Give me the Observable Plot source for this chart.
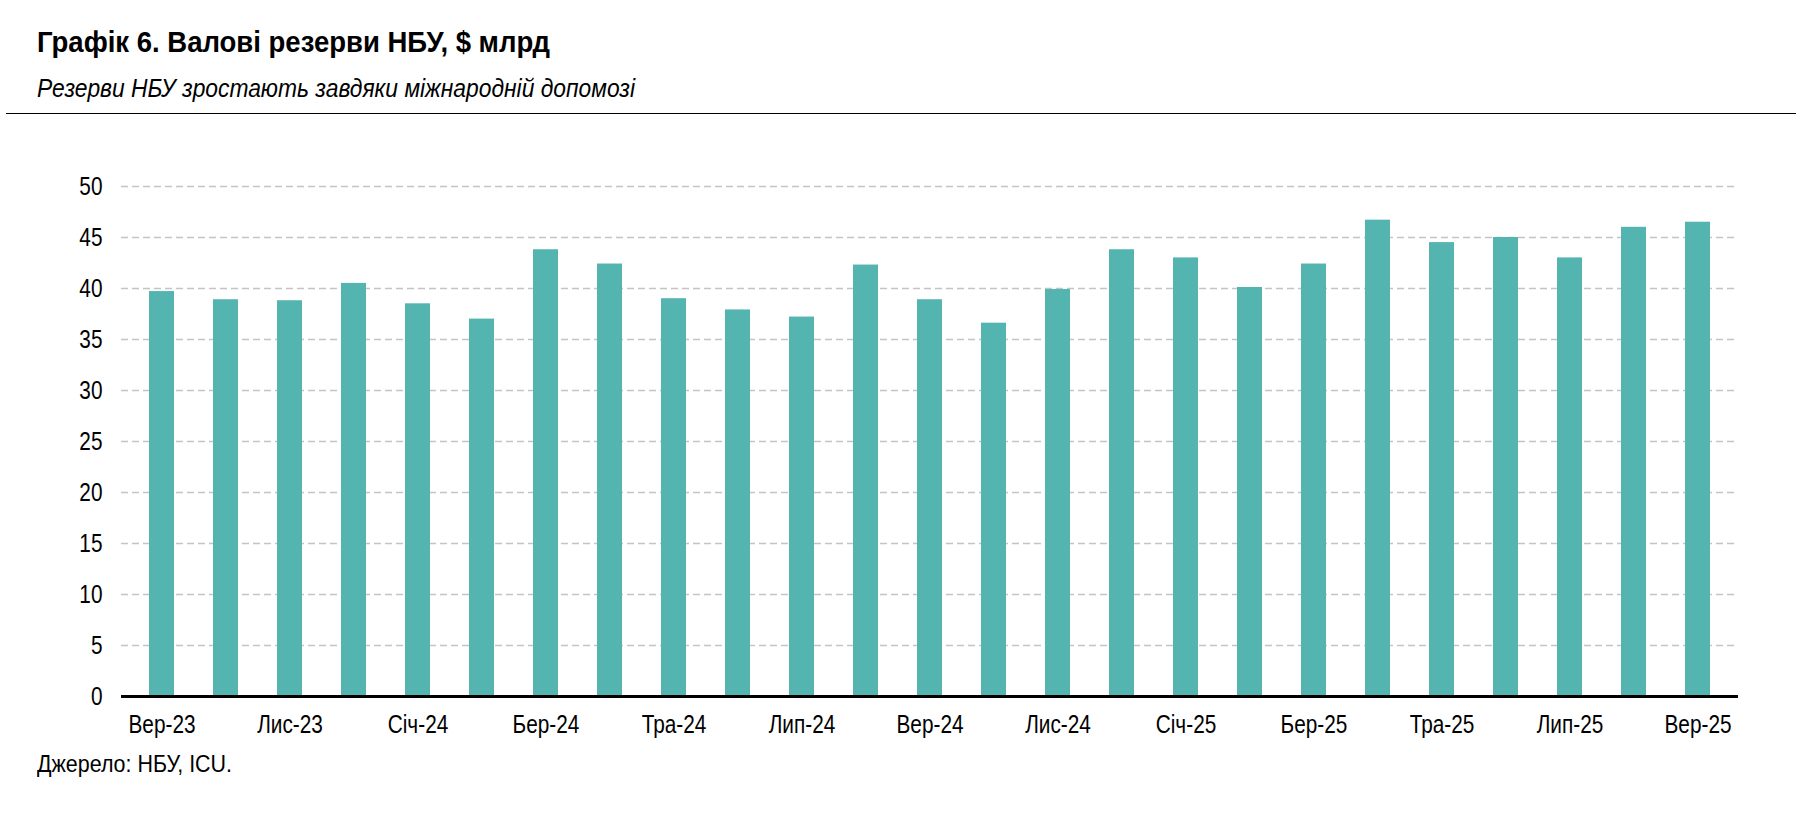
<!DOCTYPE html>
<html>
<head>
<meta charset="utf-8">
<script src="https://cdn.jsdelivr.net/npm/d3@7"></script>
<script src="https://cdn.jsdelivr.net/npm/@observablehq/plot@0.6"></script>
<style>
  html, body { margin: 0; padding: 0; background: #fff; }
  body { width: 1811px; height: 817px; position: relative; overflow: hidden;
         font-family: "Liberation Sans", Arial, sans-serif; color: #000; }
  .txt { position: absolute; white-space: nowrap; line-height: 1; transform-origin: 0 0; }
  #title { left: 37px; top: 27px; font-size: 30px; font-weight: bold; }
  #subtitle { left: 37px; top: 76px; font-size: 25px; font-style: italic; }
  #rule { position: absolute; left: 6px; top: 113px; width: 1790px; height: 0; border-top: 1.5px solid #000; }
  #chart { position: absolute; left: 0; top: 140px; }
  #source { left: 37px; top: 752px; font-size: 24px; }
</style>
</head>
<body>
<div id="title" class="txt">Графік 6. Валові резерви НБУ, $ млрд</div>
<div id="subtitle" class="txt">Резерви НБУ зростають завдяки міжнародній допомозі</div>
<div id="rule"></div>
<div id="chart"></div>
<div id="source" class="txt">Джерело: НБУ, ICU.</div>
<script>
const months = ["Вер-23","Жов-23","Лис-23","Гру-23","Січ-24","Лют-24","Бер-24","Кві-24","Тра-24","Чер-24","Лип-24","Сер-24","Вер-24","Жов-24","Лис-24","Гру-24","Січ-25","Лют-25","Бер-25","Кві-25","Тра-25","Чер-25","Лип-25","Сер-25","Вер-25"];
const reserves = [39.7,38.9,38.8,40.5,38.5,37.0,43.8,42.4,39.0,37.9,37.2,42.3,38.9,36.6,39.9,43.8,43.0,40.1,42.4,46.7,44.5,45.0,43.0,46.0,46.5];
const xTickLabels = ["Вер-23","Лис-23","Січ-24","Бер-24","Тра-24","Лип-24","Вер-24","Лис-24","Січ-25","Бер-25","Тра-25","Лип-25","Вер-25"];
const yTicks = [0,5,10,15,20,25,30,35,40,45,50];

const data = months.map((m, i) => ({month: m, value: reserves[i]}));

// condense HTML texts to a narrow look
function condense(id, targetWidth) {
  const el = document.getElementById(id);
  const w = el.getBoundingClientRect().width;
  el.style.transform = `scaleX(${targetWidth / w})`;
}
condense("title", 513);
condense("subtitle", 598);
condense("source", 195);

const chart = Plot.plot({
  width: 1811,
  height: 620,
  marginLeft: 121,
  marginRight: 73,
  marginTop: 46,
  marginBottom: 64,
  style: {fontFamily: '"Liberation Sans", Arial, sans-serif', fontSize: "26px", color: "#000", background: "#fff"},
  x: {domain: months, paddingInner: 0.61, paddingOuter: 0.305, label: null},
  y: {domain: [0, 50], label: null},
  marks: [
    Plot.gridY(yTicks.filter(d => d > 0), {stroke: "#c4c4c4", strokeOpacity: 1, strokeWidth: 1.5, strokeDasharray: "7,4"}),
    Plot.barY(data, {x: "month", y: "value", fill: "#54b5b0"}),
    Plot.ruleY([0], {stroke: "#000", strokeWidth: 3}),
    Plot.axisY(yTicks, {tickSize: 0, tickPadding: 19, label: null, fill: "#000"}),
    Plot.axisX(xTickLabels, {tickSize: 0, tickPadding: 18, label: null, fill: "#000"})
  ]
});
// narrow the axis labels horizontally around their anchor
chart.querySelectorAll('g[aria-label="y-axis tick label"] text, g[aria-label="x-axis tick label"] text').forEach(t => {
  const tr = t.getAttribute("transform");
  if (tr) {
    t.setAttribute("transform", tr + " scale(0.8,1)");
  } else {
    const x = +(t.getAttribute("x") || 0), y = +(t.getAttribute("y") || 0);
    t.removeAttribute("x"); t.removeAttribute("y");
    t.setAttribute("transform", `translate(${x},${y}) scale(0.8,1)`);
  }
});
document.getElementById("chart").appendChild(chart);
</script>
</body>
</html>
